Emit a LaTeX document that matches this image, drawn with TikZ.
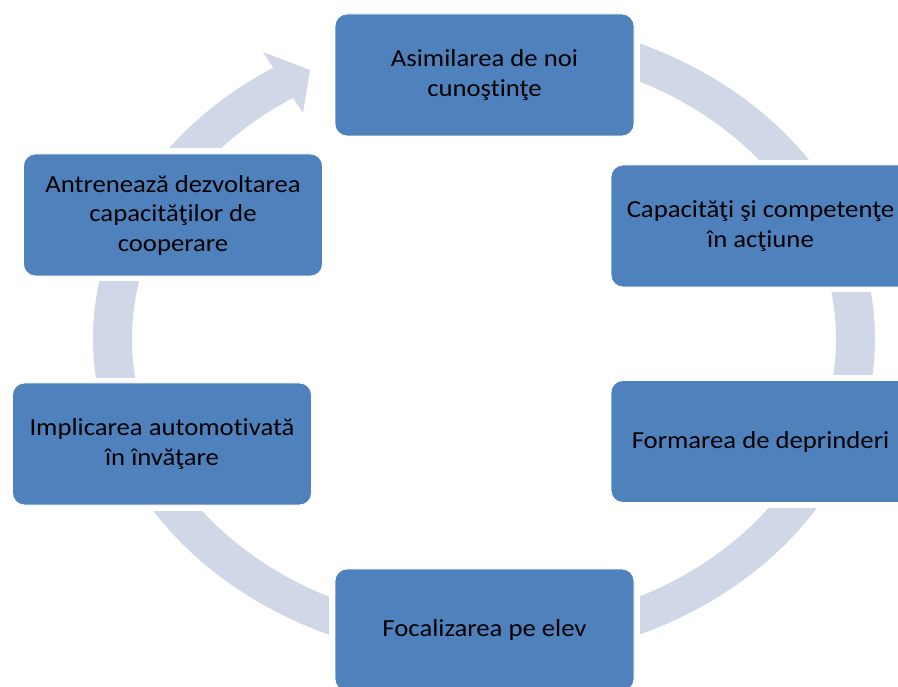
\documentclass[tikz,border=0pt]{standalone}
\usepackage{fontspec}
\setmainfont{Carlito}[FakeStretch=1.09, Ligatures=NoCommon]
\definecolor{boxblue}{HTML}{4F81BD}
\definecolor{ringc}{HTML}{D0D8E8}
\begin{document}
\begin{tikzpicture}[x=1pt,y=-1pt,
  stepbox/.style={fill=boxblue, draw=white, line width=0.8pt, rounded corners=12pt,
    minimum width=299pt, minimum height=122pt, align=center, inner sep=0pt,
    font=\fontsize{24.5}{29.5}\selectfont, text=black},
  ringpiece/.style={fill=ringc, even odd rule}
]
\useasboundingbox (0,0) rectangle (898,687);
\clip (0,0) rectangle (898,687);
\fill[white] (0,0) rectangle (898,687);

% ring segments
\foreach \xa/\ya/\xb/\yb in {640/0/898/160, 700/293/898/375, 640/508/898/687, 0/511/329/687, 0/282/300/378}{
  \begin{scope}
    \clip (\xa,\ya) rectangle (\xb,\yb);
    \fill[ringpiece] (484,339) ellipse (391pt and 322pt) (484,339) ellipse (352pt and 287pt);
  \end{scope}
}
% arrow segment
\begin{scope}
  \clip (0,0) -- (231,0) -- (328,148) -- (0,148) -- cycle;
  \fill[ringpiece] (484,339) ellipse (391pt and 322pt) (484,339) ellipse (352pt and 287pt);
\end{scope}
\coordinate (tipA) at (263,52);
\coordinate (tip) at (310,70);
\coordinate (tipB) at (303,113);
\fill[ringc] (tipA) -- (tip) -- (tipB) -- cycle;

% boxes
\node[stepbox] (n1) at (484.5,75) {Asimilarea de noi\\cunoştinţe};
\node[stepbox] (n2) at (760.5,226) {Capacităţi şi competenţe\\în acţiune};
\node[stepbox] (n3) at (760.5,441.5) {Formarea de deprinderi};
\node[stepbox] (n4) at (484.5,630) {Focalizarea pe elev};
\node[stepbox] (n5) at (162,444) {Implicarea automotivată\\în învăţare};
\node[stepbox] (n6) at (173,215) {Antrenează dezvoltarea\\capacităţilor de\\cooperare};
\end{tikzpicture}
\end{document}
